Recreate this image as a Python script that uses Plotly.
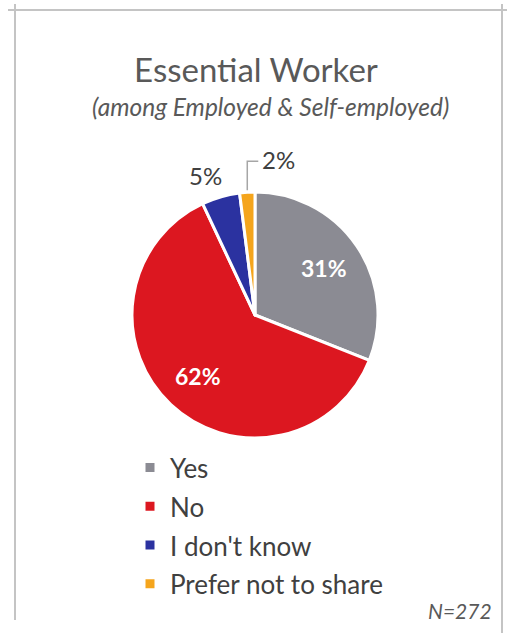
import math
import plotly.graph_objects as go

# Survey answers (share of respondents, %)
categories = ["Yes", "No", "I don't know", "Prefer not to share"]
shares = [31, 62, 5, 2]
slice_colors = ["#8b8b93", "#dc1720", "#2b32a0", "#f5a51c"]
label_colors = ["white", "white", "#404040", "#404040"]
label_inside = [True, True, False, False]

title_text = "Essential Worker"
subtitle_text = "(among Employed & Self-employed)"
sample_note = "N=272"

W, H = 507, 633
FONT = "Lato, 'Open Sans', sans-serif"
TEXT_GREY = "#595959"
LEGEND_GREY = "#404040"

# pie placement in pixels (centre and radius)
cx, cy, r = 255, 315, 123


def px(x):
    return x / W


def py(y):
    return 1 - y / H


fig = go.Figure(
    go.Pie(
        labels=[f"<span style='font-size:26px'>{c}</span>" for c in categories],
        values=shares,
        sort=False,
        direction="clockwise",
        rotation=0,
        marker=dict(colors=slice_colors, line=dict(color="white", width=3)),
        textinfo="none",
        hovertemplate="%{value}%<extra></extra>",
        domain=dict(x=[px(cx - r), px(cx + r)], y=[py(cy + r), py(cy - r)]),
    )
)

# percentage labels, placed along each slice's mid-angle (clockwise from 12 o'clock)
annotations = []
shapes = []
total = sum(shares)
start = 0.0
for val, col, inside in zip(shares, label_colors, label_inside):
    mid = (start + val / 2) / total * 2 * math.pi
    start += val
    sx, sy = math.sin(mid), -math.cos(mid)
    label = dict(text=f"<b>{val}%</b>" if inside else f"{val}%", xref="paper", yref="paper",
                 showarrow=False, font=dict(family=FONT, size=23 if inside else 24, color=col),
                 yanchor="middle")
    if inside:
        d = 0.68 * r
        label.update(x=px(cx + d * sx), y=py(cy + d * sy), xanchor="center")
    elif val >= 4:
        d = 1.18 * r
        label.update(x=px(cx + d * sx), y=py(cy + d * sy), xanchor="center", xshift=-9)
    else:
        # tiny slice: elbow leader line up from the rim, label to the right
        ex, ey = cx + r * sx, cy + r * sy
        top = ey - 31
        shapes.append(dict(type="path", xref="paper", yref="paper",
                           path=f"M {px(ex)},{py(ey - 2)} L {px(ex)},{py(top)} L {px(ex + 11)},{py(top)}",
                           line=dict(color="#a6a6a6", width=1.5)))
        label.update(x=px(ex + 13), y=py(top - 2), xanchor="left")
    annotations.append(label)

border = dict(color="#c4c4c4", width=2)
shapes += [
    dict(type="line", xref="paper", yref="paper", x0=px(8), x1=px(W), y0=py(10), y1=py(10), line=border),
    dict(type="line", xref="paper", yref="paper", x0=px(15), x1=px(15), y0=py(4), y1=py(620), line=border),
    dict(type="line", xref="paper", yref="paper", x0=px(502), x1=px(502), y0=py(4), y1=py(H), line=border),
]

annotations += [
    dict(text=f"<i>{subtitle_text}</i>", x=px(270), y=py(106), xref="paper", yref="paper",
         showarrow=False, xanchor="center", yanchor="middle",
         font=dict(family=FONT, size=24.5, color=TEXT_GREY)),
    dict(text=f"<i>{sample_note}</i>", x=px(494), y=py(610), xref="paper", yref="paper",
         showarrow=False, xanchor="right", yanchor="middle",
         font=dict(family=FONT, size=21, color=TEXT_GREY)),
]

fig.update_layout(
    width=W,
    height=H,
    margin=dict(l=0, r=0, t=0, b=0),
    paper_bgcolor="white",
    plot_bgcolor="white",
    title=dict(text=title_text, x=px(256), y=py(70), xanchor="center", yanchor="middle",
               font=dict(family=FONT, size=33, color=TEXT_GREY)),
    showlegend=True,
    legend=dict(x=px(130), y=py(443), xanchor="left", yanchor="top",
                font=dict(family=FONT, size=27.5, color=LEGEND_GREY),
                bgcolor="rgba(0,0,0,0)", itemclick=False),
    shapes=shapes,
    annotations=annotations,
)

fig.write_html("out.html")
